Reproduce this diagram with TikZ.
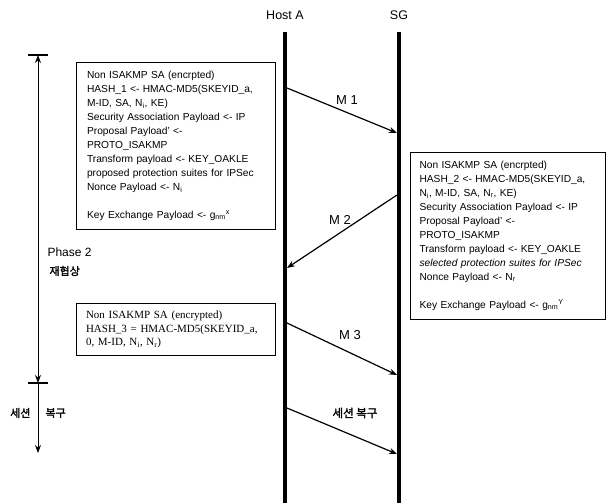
\documentclass[tikz,border=0pt]{standalone}
\usepackage{fontspec}
\setmainfont{Liberation Sans}
\newfontfamily\seriffont{Liberation Serif}
\newfontfamily\krfont{Noto Sans CJK KR}[BoldFont={Noto Sans CJK KR},BoldFeatures={FakeBold=2}]
\usetikzlibrary{arrows.meta}
\begin{document}
\begin{tikzpicture}[x=1pt,y=-1pt,
  lifeline/.style={line width=4pt},
  msg/.style={line width=1.2pt,-{Stealth[length=8pt,width=6pt]}},
  spanline/.style={line width=1pt},
  tickline/.style={line width=1.2pt},
  infobox/.style={draw,line width=1.1pt,anchor=north west,align=left,
    inner ysep=8.5pt,font=\fontsize{10.2}{14}\selectfont},
  actor/.style={font=\fontsize{12.5}{14}\selectfont},
  mlabel/.style={font=\fontsize{13}{15}\selectfont},
  phaselabel/.style={font=\fontsize{12}{14}\selectfont},
  krlabel/.style={font=\krfont\bfseries\fontsize{11}{14}\selectfont}
]
\useasboundingbox (0,0) rectangle (606,503);

% actors and lifelines
\node[actor] (hostA) at (285,15) {Host A};
\node[actor] (sg) at (399,15) {SG};
\coordinate (hTop) at (285,32);
\coordinate (hBot) at (285,503);
\coordinate (sTop) at (399,32);
\coordinate (sBot) at (399,503);
\draw[lifeline] (hTop) -- (hBot);
\draw[lifeline] (sTop) -- (sBot);

% left timeline
\coordinate (tTop) at (38,55);
\coordinate (tMid) at (38,383);
\coordinate (tBot) at (38,453);
\draw[tickline] ([xshift=-10pt]tTop) -- ([xshift=10pt]tTop);
\draw[tickline] ([xshift=-10pt]tMid) -- ([xshift=10pt]tMid);
\draw[spanline,{Stealth[length=8pt,width=6pt]}-{Stealth[length=8pt,width=6pt]}] (tTop) -- (tMid);
\draw[spanline,-{Stealth[length=8pt,width=6pt]}] (tMid) -- (tBot);
\node[phaselabel,anchor=west] (ph) at (44,252) {Phase 2};
\node[krlabel,anchor=west] (reneg) at (46,271) {재협상};
\node[krlabel,anchor=east] (sess) at (34,413) {세션};
\node[krlabel,anchor=west] (recov) at (42,413) {복구};

% boxes
\node[infobox,text width=178pt,inner xsep=10.5pt] (box1) at (76,62) {%
Non ISAKMP SA (encrpted)\\
HASH\_1 <- HMAC-MD5(SKEYID\_a,\\
M-ID, SA, N\textsubscript{i}, KE)\\
Security Association Payload <- IP\\
Proposal Payload' <-\\
PROTO\_ISAKMP\\
Transform payload <- KEY\_OAKLE\\
proposed protection suites for IPSec\\
Nonce Payload <- N\textsubscript{i}\\[14pt]
Key Exchange Payload <- g\textsubscript{nm}\textsuperscript{x}};

\node[infobox,text width=177pt,inner xsep=9pt] (box2) at (410,152) {%
Non ISAKMP SA (encrpted)\\
HASH\_2 <- HMAC-MD5(SKEYID\_a,\\
N\textsubscript{i}, M-ID, SA, N\textsubscript{r}, KE)\\
Security Association Payload <- IP\\
Proposal Payload' <-\\
PROTO\_ISAKMP\\
Transform payload <- KEY\_OAKLE\\
\textit{selected protection suites for IPSec}\\
Nonce Payload <- N\textsubscript{r}\\[14pt]
Key Exchange Payload <- g\textsubscript{nm}\textsuperscript{Y}};

\node[infobox,text width=180pt,inner xsep=9.5pt,font=\seriffont\fontsize{11}{13.5}\selectfont,inner ysep=7.5pt] (box3) at (76,303) {%
Non ISAKMP SA (encrypted)\\
HASH\_3 = HMAC-MD5(SKEYID\_a,\\
0, M-ID, N\textsubscript{i}, N\textsubscript{r})};

% messages
\coordinate (m1s) at (287,88);
\coordinate (m1e) at (397,133);
\coordinate (m2s) at (397,195);
\coordinate (m2e) at (287,268);
\coordinate (m3s) at (287,323);
\coordinate (m3e) at (397,375);
\coordinate (m4s) at (287,408);
\coordinate (m4e) at (397,454);
\draw[msg] (m1s) -- (m1e);
\draw[msg] (m2s) -- (m2e);
\draw[msg] (m3s) -- (m3e);
\draw[msg] (m4s) -- (m4e);
\node[mlabel] (l1) at (347,100) {M 1};
\node[mlabel] (l2) at (340,220) {M 2};
\node[mlabel] (l3) at (350,335) {M 3};
\node[krlabel,font=\krfont\bfseries\fontsize{11.5}{14}\selectfont] (l4) at (355,413) {세션 복구};
\end{tikzpicture}
\end{document}
